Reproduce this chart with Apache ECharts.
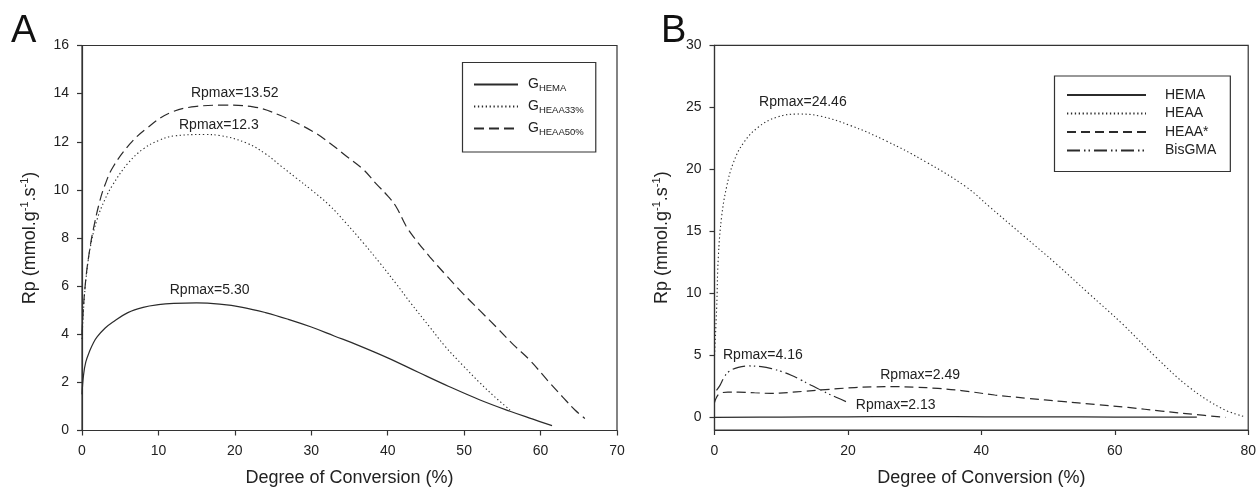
<!DOCTYPE html>
<html>
<head>
<meta charset="utf-8">
<script src="https://cdn.jsdelivr.net/npm/echarts@6/dist/echarts.min.js"></script>
<style>
  html, body { margin: 0; padding: 0; background: #fff; }
  #chart { width: 1259px; height: 495px; }
</style>
</head>
<body>
<div id="chart"></div>
<script>
// ---- Panel A: gels, Rp vs degree of conversion ----
const ticksA_x = [0, 10, 20, 30, 40, 50, 60, 70];
const ticksA_y = [0, 2, 4, 6, 8, 10, 12, 14, 16];

const gHema = [[0,1.5],[0.2,2.3],[0.5,2.85],[1,3.3],[1.5,3.65],[2,3.9],[3,4.25],[4,4.5],[6,4.9],[8,5.12],[10,5.23],[12,5.28],[15,5.30],[18,5.25],[21,5.12],[24,4.9],[27,4.62],[30,4.3],[33,3.93],[36,3.56],[40,3.02],[44,2.42],[48,1.83],[52,1.28],[56,0.8],[59,0.47],[61.5,0.2]];
const gHeaa33 = [[0,3.8],[0.3,5.5],[0.7,6.8],[1.2,7.8],[2,8.8],[3,9.6],[4,10.2],[6,11.1],[8,11.7],[10,12.05],[12,12.24],[16,12.3],[18,12.26],[21.5,11.95],[24,11.5],[26,11.0],[28,10.5],[30,10.0],[32.4,9.35],[34.6,8.6],[36.8,7.8],[39,6.95],[41.1,6.1],[43,5.3],[45.5,4.3],[47.5,3.5],[49.85,2.7],[52,2.0],[54,1.4],[56,0.85]];
const gHeaa50 = [[0,4.0],[0.2,5.2],[0.57,6.5],[1,7.5],[1.44,8.3],[2.3,9.5],[3,10.2],[4.06,10.95],[6.24,11.9],[8.43,12.55],[11.5,13.2],[15,13.47],[18.5,13.52],[22.4,13.45],[25.9,13.1],[30.2,12.43],[32.4,11.95],[34.6,11.4],[36.8,10.85],[38.5,10.25],[40,9.75],[41.1,9.3],[42.4,8.5],[43.5,8.0],[45.5,7.22],[47.5,6.5],[49.85,5.69],[52,5.0],[54.2,4.3],[56.5,3.55],[58.6,2.92],[61,2.05],[62.9,1.39],[64.5,0.85],[65.8,0.5]];

const namesA = ['GHEMA', 'GHEAA33%', 'GHEAA50%'];
const rpLabelsA = ['Rpmax=5.30', 'Rpmax=12.3', 'Rpmax=13.52'];

// ---- Panel B: monomers ----
const ticksB_x = [0, 20, 40, 60, 80];
const ticksB_y = [0, 5, 10, 15, 20, 25, 30];

const mHema = [[0,0.02],[10,0.04],[20,0.06],[28,0.08],[36,0.07],[45,0.06],[55,0.05],[65,0.04],[72.3,0.03]];
const mHeaa = [[0,5.0],[0.1,6.0],[0.2,7.3],[0.33,8.9],[0.57,12.9],[1.07,16.2],[1.82,18.6],[2.8,20.5],[4.3,22.1],[6.55,23.4],[9.3,24.2],[12.5,24.46],[15.8,24.3],[20.3,23.55],[25.7,22.3],[31.7,20.6],[37.7,18.6],[41.2,17.0],[46.2,14.7],[51.2,12.4],[56.1,10.0],[61.1,7.57],[66.1,4.9],[71.1,2.47],[76.1,0.72],[79.3,0.1]];
const mHeaaStar = [[0,1.2],[0.33,1.66],[0.82,1.95],[2,2.05],[3.6,2.05],[6,2.0],[8.5,1.95],[11,2.02],[13.5,2.12],[16,2.23],[18.5,2.33],[21,2.42],[24,2.48],[27,2.49],[30,2.45],[33.5,2.35],[37,2.18],[42,1.82],[47,1.55],[52,1.3],[57,1.06],[62,0.82],[67,0.52],[72,0.25],[76.6,0.02]];
const mBisgma = [[0.3,2.2],[0.82,2.6],[1.4,3.2],[2.07,3.67],[3.56,4.05],[5.2,4.16],[7,4.1],[8.55,3.95],[10,3.72],[11.5,3.41],[13,3.02],[14.5,2.6],[16,2.2],[17,1.93],[18.5,1.58],[19.8,1.26]];

const namesB = ['HEMA', 'HEAA', 'HEAA*', 'BisGMA'];
const rpLabelsB = ['Rpmax=2.13', 'Rpmax=24.46', 'Rpmax=2.49', 'Rpmax=4.16'];

// ---- styling ----
const FONT = 'Liberation Sans, Arial, sans-serif';
const INK = '#222';
const AXIS = '#333';

const styles = {
  solid:   { type: 'solid', width: 1.2 },
  dotted:  { type: [1.3, 2.6], width: 1.1 },
  dashedA: { type: [10, 5], width: 1.2 },
  dashedB: { type: [9, 5], width: 1.2 },
  dashDot: { type: [13, 4, 1.5, 3, 1.5, 4], width: 1.2 }
};

function peakMark(text, offset) {
  return {
    symbol: 'circle',
    symbolSize: 0,
    silent: true,
    itemStyle: { color: 'rgba(0,0,0,0)' },
    label: {
      show: true, position: 'inside', offset: offset,
      formatter: text, color: INK, fontSize: 14, fontFamily: FONT
    },
    data: [{ type: 'max', valueDim: 'y' }]
  };
}

function lineSeries(name, data, style, idx, label, offset) {
  return {
    name: name, type: 'line', data: data,
    xAxisIndex: idx, yAxisIndex: idx,
    symbol: 'none', smooth: 0.4,
    lineStyle: Object.assign({ color: '#2b2b2b' }, style),
    itemStyle: { color: '#2b2b2b' },
    emphasis: { disabled: true },
    markPoint: peakMark(label, offset),
    z: 3
  };
}

function valueAxis(gridIndex, min, max, interval, isX, extra) {
  return Object.assign({
    type: 'value', gridIndex: gridIndex, min: min, max: max, interval: interval,
    axisLine: { show: true, onZero: false, lineStyle: { color: AXIS, width: 1.2 } },
    axisTick: { show: true, length: 5, lineStyle: { color: AXIS, width: 1.2 } },
    axisLabel: { color: INK, fontSize: 14, fontFamily: FONT, margin: isX ? 14 : 13 },
    splitLine: { show: false },
    nameTextStyle: { color: INK, fontSize: 18, fontFamily: FONT }
  }, extra || {});
}

const yName = '{t|Rp (mmol.g}{sup|-1}{t|.s}{sup|-1}{t|)}';
const yNameStyle = {
  color: INK, fontFamily: FONT,
  rich: {
    t:   { fontSize: 18, fontFamily: FONT, color: INK, lineHeight: 22, verticalAlign: 'middle' },
    sup: { fontSize: 11, fontFamily: FONT, color: INK, lineHeight: 22, verticalAlign: 'top' }
  }
};

// legend icons: keep the line only, hide the marker dot
const legendItemStyle = { color: 'rgba(0,0,0,0)', borderColor: 'rgba(0,0,0,0)', borderWidth: 0, opacity: 0 };

const option = {
  backgroundColor: '#fff',
  animation: false,
  textStyle: { fontFamily: FONT },
  title: [
    { text: 'A', left: 6, top: 8, textStyle: { fontSize: 38, fontWeight: 'normal', color: '#111', fontFamily: FONT } },
    { text: 'B', left: 656, top: 8, textStyle: { fontSize: 38, fontWeight: 'normal', color: '#111', fontFamily: FONT } }
  ],
  grid: [
    { left: 82, top: 45.5, width: 535, height: 385, show: true, borderColor: AXIS, borderWidth: 1.2, containLabel: false },
    { left: 714.5, top: 45.3, width: 535.5, height: 384.7, show: true, borderColor: AXIS, borderWidth: 1.2, containLabel: false }
  ],
  xAxis: [
    valueAxis(0, ticksA_x[0], ticksA_x[ticksA_x.length - 1], 10, true, {
      name: 'Degree of Conversion (%)', nameLocation: 'middle', nameGap: 39
    }),
    valueAxis(1, ticksB_x[0], ticksB_x[ticksB_x.length - 1], 20, true, {
      name: 'Degree of Conversion (%)', nameLocation: 'middle', nameGap: 39
    })
  ],
  yAxis: [
    valueAxis(0, ticksA_y[0], ticksA_y[ticksA_y.length - 1], 2, false, {
      name: yName, nameLocation: 'middle', nameGap: 41, nameTextStyle: yNameStyle
    }),
    valueAxis(1, -1, ticksB_y[ticksB_y.length - 1], null, false, {
      name: yName, nameLocation: 'middle', nameGap: 41, nameTextStyle: yNameStyle,
      axisTick: { show: true, length: 5, customValues: ticksB_y, lineStyle: { color: AXIS, width: 1.2 } },
      axisLabel: { color: INK, fontSize: 14, fontFamily: FONT, margin: 13, customValues: ticksB_y }
    })
  ],
  legend: [
    {
      data: namesA, orient: 'vertical', left: 462.5, top: 62.5,
      selectedMode: false,
      borderColor: AXIS, borderWidth: 1.2, borderRadius: 0,
      padding: [15, 12, 14.5, 10.5],
      itemWidth: 44, itemHeight: 14, itemGap: 6,
      itemStyle: legendItemStyle,
      formatter: function (n) { return '{g|G}{sub|' + n.slice(1) + '}'; },
      textStyle: {
        color: INK, fontFamily: FONT, padding: [0, 0, 0, 5],
        rich: {
          g:   { fontSize: 14, fontFamily: FONT, color: INK, lineHeight: 18, verticalAlign: 'middle' },
          sub: { fontSize: 9.5, fontFamily: FONT, color: INK, lineHeight: 18, verticalAlign: 'bottom' }
        }
      }
    },
    {
      data: namesB, orient: 'vertical', left: 1054.5, top: 76,
      selectedMode: false,
      borderColor: AXIS, borderWidth: 1.2, borderRadius: 0,
      padding: [11, 14, 13, 11.5],
      itemWidth: 79, itemHeight: 14, itemGap: 2.5,
      itemStyle: legendItemStyle,
      textStyle: { color: INK, fontSize: 14, fontFamily: FONT, lineHeight: 16, padding: [0, 0, 0, 14] }
    }
  ],
  series: [
    lineSeries(namesA[0], gHema,   styles.solid,   0, rpLabelsA[0], [13, -13]),
    lineSeries(namesA[1], gHeaa33, styles.dotted,  0, rpLabelsA[1], [14.6, -9.6]),
    lineSeries(namesA[2], gHeaa50, styles.dashedA, 0, rpLabelsA[2], [11.3, -12.5]),
    lineSeries(namesB[0], mHema,     styles.solid,   1, rpLabelsB[0], [-5.6, -11.7]),
    lineSeries(namesB[1], mHeaa,     styles.dotted,  1, rpLabelsB[1], [5, -12.3]),
    lineSeries(namesB[2], mHeaaStar, styles.dashedB, 1, rpLabelsB[2], [25.5, -11.7]),
    lineSeries(namesB[3], mBisgma,   styles.dashDot, 1, rpLabelsB[3], [13.7, -11])
  ]
};

const chart = echarts.init(document.getElementById('chart'), null, { renderer: 'canvas' });
chart.setOption(option);
</script>
</body>
</html>
